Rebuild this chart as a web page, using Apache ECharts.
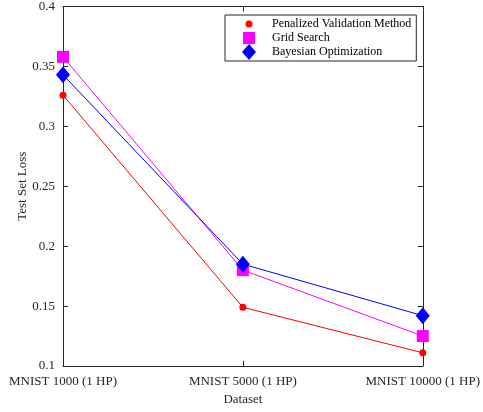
<!DOCTYPE html>
<html>
<head>
<meta charset="utf-8">
<script src="https://cdn.jsdelivr.net/npm/echarts@6/dist/echarts.min.js"></script>
<style>
html,body{margin:0;padding:0;background:#fff;}
#chart{width:483px;height:412px;}
</style>
</head>
<body>
<div id="chart"></div>
<script>
var categories = ['MNIST 1000 (1 HP)', 'MNIST 5000 (1 HP)', 'MNIST 10000 (1 HP)'];
var seriesNames = ['Penalized Validation Method', 'Grid Search', 'Bayesian Optimization'];
var penalizedValues = [0.326, 0.149, 0.111];
var gridValues = [0.358, 0.180, 0.125];
var bayesValues = [0.343, 0.185, 0.142];
var yMin = 0.1, yMax = 0.4, yStep = 0.05;

var FONT = 'Liberation Serif';
var AX = '#262626';

// legend icons: bbox 0..26 x 0..16, shape centred at (8,8)
var iconCircle = 'path://M0,0M26,16M8,4.5A3.5,3.5 0 1 1 8,11.5A3.5,3.5 0 1 1 8,4.5Z';
var iconRect = 'path://M0,0M26,16M2,2L14,2L14,14L2,14Z';
var iconDiamond = 'path://M0,0M26,16M8,0L15,8L8,16L1,8Z';

var chart = echarts.init(document.getElementById('chart'), null, {renderer: 'canvas'});

function axisCommon() {
  return {
    axisLine: {show: true, lineStyle: {color: AX, width: 1}},
    axisTick: {show: true, inside: true, length: 5, lineStyle: {color: AX, width: 1}},
    splitLine: {show: false}
  };
}

var option = {
  animation: false,
  backgroundColor: '#ffffff',
  textStyle: {fontFamily: FONT},
  grid: {left: 63, right: 58, top: 5, bottom: 46, containLabel: false},
  legend: {
    orient: 'vertical',
    left: 225,
    top: 15,
    itemWidth: 26,
    itemHeight: 16,
    itemGap: -2,
    padding: [1, 5, 1, 16],
    borderColor: AX,
    borderWidth: 1,
    backgroundColor: '#ffffff',
    textStyle: {fontFamily: FONT, fontSize: 12, color: '#000'},
    data: [
      {name: seriesNames[0], icon: iconCircle, itemStyle: {color: '#ff0000'}},
      {name: seriesNames[1], icon: iconRect, itemStyle: {color: '#ff00ff'}},
      {name: seriesNames[2], icon: iconDiamond, itemStyle: {color: '#0000ff'}}
    ]
  },
  xAxis: [
    Object.assign(axisCommon(), {
      type: 'category',
      data: categories,
      boundaryGap: false,
      name: 'Dataset',
      nameLocation: 'middle',
      nameGap: 27,
      nameMoveOverlap: false,
      nameTextStyle: {fontFamily: FONT, fontSize: 13, color: '#262626'},
      axisLabel: {fontFamily: FONT, fontSize: 13, color: '#262626', margin: 9, interval: 0}
    }),
    Object.assign(axisCommon(), {
      type: 'category',
      data: categories,
      boundaryGap: false,
      position: 'top',
      axisLabel: {show: false}
    })
  ],
  yAxis: [
    Object.assign(axisCommon(), {
      type: 'value',
      min: yMin,
      max: yMax,
      interval: yStep,
      name: 'Test Set Loss',
      nameLocation: 'middle',
      nameGap: 34,
      nameMoveOverlap: false,
      nameTextStyle: {fontFamily: FONT, fontSize: 13, color: '#262626'},
      axisLabel: {fontFamily: FONT, fontSize: 13, color: '#262626', margin: 8,
        formatter: function (v) { return String(parseFloat(v.toFixed(2))); }}
    }),
    Object.assign(axisCommon(), {
      type: 'value',
      min: yMin,
      max: yMax,
      interval: yStep,
      position: 'right',
      axisLabel: {show: false}
    })
  ],
  series: [
    {
      name: seriesNames[0], type: 'line', data: penalizedValues,
      symbol: 'circle', symbolSize: 7, showSymbol: true,
      lineStyle: {color: '#ff0000', width: 1},
      itemStyle: {color: '#ff0000'}
    },
    {
      name: seriesNames[1], type: 'line', data: gridValues,
      symbol: 'rect', symbolSize: 12, showSymbol: true,
      lineStyle: {color: '#ff00ff', width: 1},
      itemStyle: {color: '#ff00ff'}
    },
    {
      name: seriesNames[2], type: 'line', data: bayesValues,
      symbol: 'diamond', symbolSize: [14, 17], showSymbol: true,
      lineStyle: {color: '#0000ff', width: 1},
      itemStyle: {color: '#0000ff'}
    }
  ]
};
chart.setOption(option);
</script>
</body>
</html>
